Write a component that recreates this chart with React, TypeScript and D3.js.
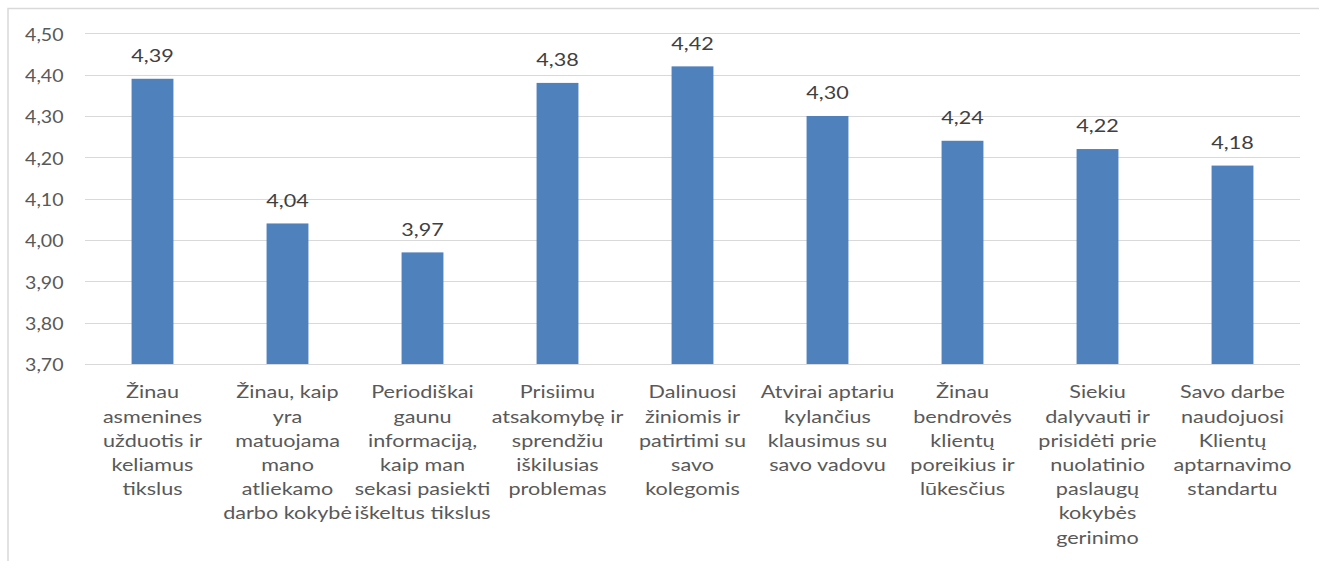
import React from "react";
import * as d3 from "d3";

// Survey statements (line breaks as shown under each bar)
const categories: string[] = [
  "Žinau\nasmenines\nužduotis ir\nkeliamus\ntikslus",
  "Žinau, kaip\nyra\nmatuojama\nmano\natliekamo\ndarbo kokybė",
  "Periodiškai\ngaunu\ninformaciją,\nkaip man\nsekasi pasiekti\niškeltus tikslus",
  "Prisiimu\natsakomybę ir\nsprendžiu\niškilusias\nproblemas",
  "Dalinuosi\nžiniomis ir\npatirtimi su\nsavo\nkolegomis",
  "Atvirai aptariu\nkylančius\nklausimus su\nsavo vadovu",
  "Žinau\nbendrovės\nklientų\nporeikius ir\nlūkesčius",
  "Siekiu\ndalyvauti ir\nprisidėti prie\nnuolatinio\npaslaugų\nkokybės\ngerinimo",
  "Savo darbe\nnaudojuosi\nKlientų\naptarnavimo\nstandartu",
];

// Average score per statement
const values: number[] = [4.39, 4.04, 3.97, 4.38, 4.42, 4.3, 4.24, 4.22, 4.18];

// Value axis ticks
const yTicks: number[] = [3.7, 3.8, 3.9, 4.0, 4.1, 4.2, 4.3, 4.4, 4.5];

const W = 1319;
const H = 561;
const plot = { left: 85, right: 1300, top: 33.3, bottom: 364 };

const fmt = (v: number) => v.toFixed(2).replace(".", ",");

const FONT = "Lato, 'Open Sans', sans-serif";
const SX_AXIS = 1.15;
const SX_LABEL = 1.27;
const SX_CAT = 1.27;

export default function App() {
  const x = d3
    .scaleBand<number>()
    .domain(d3.range(categories.length))
    .range([plot.left, plot.right])
    .paddingInner(0.69)
    .paddingOuter(0.345);

  const y = d3.scaleLinear().domain([3.7, 4.5]).range([plot.bottom, plot.top]);

  const band = (plot.right - plot.left) / categories.length;
  const center = (i: number) => plot.left + band * (i + 0.5);
  const barW = x.bandwidth();

  return (
    <svg
      width={W}
      height={H}
      style={{ position: "fixed", left: 0, top: 0, background: "#ffffff" }}
    >
      <rect x={0} y={0} width={W} height={H} fill="#ffffff" />
      {/* chart frame */}
      <rect
        x={8}
        y={8.5}
        width={W + 20}
        height={H + 20}
        fill="none"
        stroke="#d9d9d9"
        strokeWidth={1.5}
      />

      {/* gridlines */}
      {yTicks.map((t) => (
        <line
          key={"g" + t}
          x1={plot.left}
          x2={plot.right}
          y1={Math.round(y(t)) + 0.5}
          y2={Math.round(y(t)) + 0.5}
          stroke="#d9d9d9"
          strokeWidth={1}
        />
      ))}

      {/* y tick labels */}
      {yTicks.map((t) => (
        <text
          key={"t" + t}
          transform={`translate(63.5,${y(t) + 7.4}) scale(${SX_AXIS},1)`}
          textAnchor="end"
          fontFamily={FONT}
          fontSize={17}
          fill="#595959"
        >
          {fmt(t)}
        </text>
      ))}

      {/* bars */}
      {values.map((v, i) => (
        <rect
          key={"b" + i}
          x={center(i) - barW / 2}
          y={y(v)}
          width={barW}
          height={y(3.7) - y(v)}
          fill="#4f81bd"
        />
      ))}

      {/* value labels */}
      {values.map((v, i) => (
        <text
          key={"v" + i}
          transform={`translate(${center(i)},${y(v) - 16.6}) scale(${SX_LABEL},1)`}
          textAnchor="middle"
          fontFamily={FONT}
          fontSize={17}
          fill="#404040"
        >
          {fmt(v)}
        </text>
      ))}

      {/* category labels */}
      {categories.map((c, i) =>
        c.split("\n").map((line, j) => (
          <text
            key={"c" + i + "-" + j}
            transform={`translate(${center(i)},${398.3 + j * 24.2}) scale(${SX_CAT},1)`}
            textAnchor="middle"
            fontFamily={FONT}
            fontSize={17}
            fill="#595959"
          >
            {line}
          </text>
        ))
      )}
    </svg>
  );
}
